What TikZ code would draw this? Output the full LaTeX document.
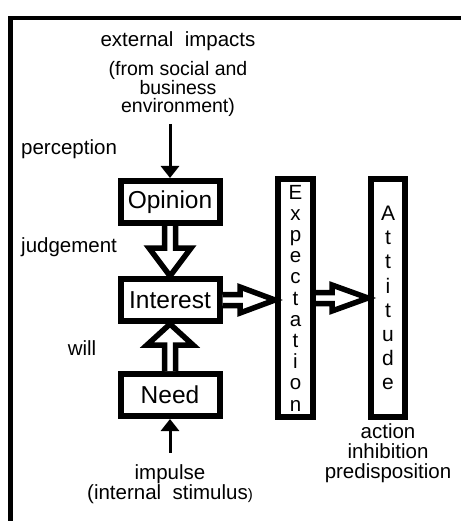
\documentclass[tikz,border=0pt]{standalone}
\usepackage{fontspec}
\setmainfont{Liberation Sans}
\usetikzlibrary{arrows.meta,calc}
\lineskiplimit=-\maxdimen

\tikzset{
  box/.style={draw, line width=6pt, minimum width=99pt, minimum height=42pt, inner sep=0pt,
    font=\fontsize{24.5}{28}\selectfont},
  tallbox/.style={draw, line width=6pt, minimum height=238pt, inner sep=0pt, align=center},
  note/.style={inner sep=0pt, align=center, font=\fontsize{20.5}{20}\selectfont},
  thinarrow/.style={line width=3pt, -{Triangle[width=18pt,length=12pt]}},
  hollow/.style={draw, fill=white, line width=5.5pt, line join=miter}
}

\begin{document}
\begin{tikzpicture}[x=1pt, y=-1pt]
\useasboundingbox (0,0) rectangle (461,521);
% frame, open at right and bottom
\draw[line width=4.3pt] (10.5,521) -- (10.5,17.8) -- (461,17.8);

% boxes
\node[box] (op) at (170,202) {Opinion};
\node[box] (in) at (170,300) {Interest};
\node[box] (need) at (170,395) {Need};
\node[tallbox, minimum width=35pt, font=\fontsize{20.5}{21.2}\selectfont] (exp) at (295.5,298)
  {E\\x\\p\\e\\c\\t\\a\\t\\i\\o\\n};
\node[tallbox, minimum width=34pt, font=\fontsize{21}{24.1}\selectfont] (att) at (388,298)
  {A\\t\\t\\i\\t\\u\\d\\e};

% labels
\node[note] (ext) at (178,41) {external\ \ impacts};
\node[note, font=\fontsize{19.5}{18.5}\selectfont] (env) at (178,89) {(from social and\\business\\environment)};
\node[note, anchor=west] (perc) at (21,149) {perception};
\node[note, anchor=west] (judg) at (21,247) {judgement};
\node[note] (will) at (82,348) {will};
\node[note, font=\fontsize{20.5}{19.5}\selectfont] (imp) at (170,484)
  {impulse\\(internal\ \ stimulus{\fontsize{15}{15}\selectfont)}};
\node[note] (act) at (388,453) {action\\inhibition\\predisposition};

% thin arrows
\draw[thinarrow, shorten <=7pt] (env.south -| op.north) -- (op.north);
\draw[thinarrow, shorten <=12pt] (imp.north -| need.south) -- (need.south);

% hollow arrows
\draw[hollow] ($(op.south)+(-5.5,0)$) -- ++(0,22) -- ++(-15.5,0) -- (in.north)
  -- ++(21,-28) -- ++(-15.5,0) -- ++(0,-22);
\draw[hollow] ($(need.north)+(-5.5,0)$) -- ++(0,-26) -- ++(-17.5,0) -- (in.south)
  -- ++(23,21) -- ++(-17.5,0) -- ++(0,26);
\draw[hollow] ($(in.east)+(0,-5.5)$) -- ++(17.5,0) -- ++(0,-7.5) -- (in.east -| exp.west)
  -- ++(-35,13) -- ++(0,-7.5) -- ++(-17.5,0);
\draw[hollow] ($(exp.east)+(0,-5.5)$) -- ++(16,0) -- ++(0,-7.5) -- (att.west)
  -- ++(-36,13) -- ++(0,-7.5) -- ++(-16,0);
\end{tikzpicture}
\end{document}
